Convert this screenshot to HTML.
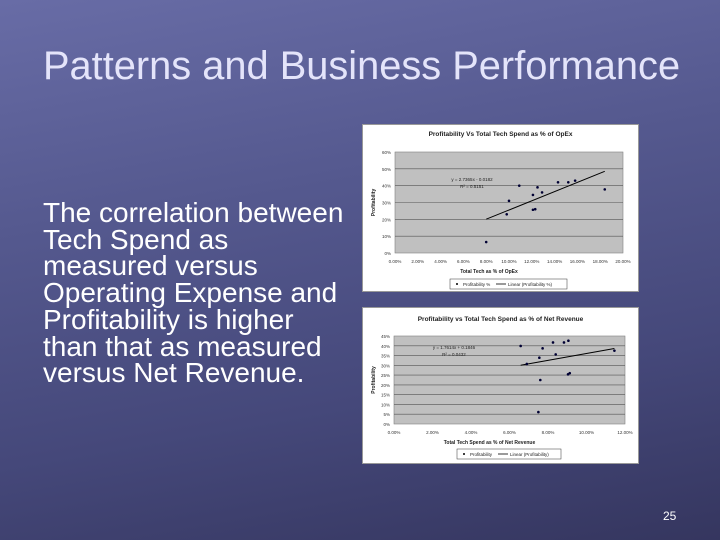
<!DOCTYPE html>
<html><head><meta charset="utf-8"><style>
body{margin:0;width:720px;height:540px;overflow:hidden;font-family:"Liberation Sans",sans-serif;}
#slide{position:relative;width:720px;height:540px;background:linear-gradient(170deg,#686ca6 0%,#55598f 35%,#45487a 70%,#35365f 100%);}
#title{position:absolute;left:43px;top:44px;font-size:39.8px;color:#e4e4fa;white-space:nowrap;}
#body{position:absolute;left:43px;top:200px;font-size:28px;line-height:26.7px;color:#fff;white-space:nowrap;}
#num{position:absolute;left:663px;top:509px;font-size:12px;color:#fff;}
svg{position:absolute;}
</style></head><body>
<div id="slide">
<div id="title">Patterns and Business Performance</div>
<div id="body">The correlation between<br>Tech Spend as<br>measured versus<br>Operating Expense and<br>Profitability is higher<br>than that as measured<br>versus Net Revenue.</div>
<div id="num">25</div>
<svg id="c1" style="left:362px;top:124px" width="277" height="168"></svg>
<svg id="c2" style="left:362px;top:307px" width="277" height="157"></svg>
</div>
<script>
const opexX=[8.0,9.8,10.0,10.9,12.1,12.1,12.3,12.5,12.9,14.3,15.2,15.8,18.4];
const opexY=[6.5,23,31,40,34.5,25.7,26,39,36,42,42,43,37.8];
const opexTicksX=["0.00%","2.00%","4.00%","6.00%","8.00%","10.00%","12.00%","14.00%","16.00%","18.00%","20.00%"];
const opexTicksY=["0%","10%","20%","30%","40%","50%","60%"];
const opexTrend=[2.7365,-0.0182];
const revX=[6.58,6.9,7.55,7.72,8.26,8.4,8.83,9.06,9.04,9.13,7.6,7.5,11.45];
const revY=[39.9,30.7,33.9,38.7,41.7,35.6,41.7,42.6,25.4,26,22.5,6.1,37.5];
const revTicksX=["0.00%","2.00%","4.00%","6.00%","8.00%","10.00%","12.00%"];
const revTicksY=["0%","5%","10%","15%","20%","25%","30%","35%","40%","45%"];
const revTrend=[1.7614,0.1846];
const NS="http://www.w3.org/2000/svg";
function mk(p,t,a,txt){const e=document.createElementNS(NS,t);for(const k in a)e.setAttribute(k,a[k]);if(txt!=null)e.textContent=txt;p.appendChild(e);return e;}
function chart(svg,o){
 const W=+svg.getAttribute('width'),H=+svg.getAttribute('height');
 let e=mk(svg,'rect',{x:0.5,y:0.5,width:W-1,height:H-1,fill:'#fff',stroke:'#999'});
 
 e=mk(svg,'text',{x:W/2,y:o.titleY,'text-anchor':'middle','font-size':6.5,'font-weight':'bold',fill:'#222'},o.title);
 
 const sx=v=>o.px0+(v-o.xmin)/(o.xmax-o.xmin)*(o.px1-o.px0);
 const sy=v=>o.py0-(v-0)/(o.ymax)*(o.py0-o.py1);
 e=mk(svg,'rect',{x:o.px0,y:o.py1,width:o.px1-o.px0,height:o.py0-o.py1,fill:'#c0c0c0',stroke:'#808080','stroke-width':0.6});
 
 const ny=o.ty.length-1;
 o.ty.forEach((t,i)=>{const v=o.ymax*i/ny,y=sy(v);
  if(i>0&&i<ny){const g=mk(svg,'line',{x1:o.px0,x2:o.px1,y1:y,y2:y,stroke:'#555','stroke-width':0.6});}
  const l=mk(svg,'text',{x:o.px0-4,y:y+2,'text-anchor':'end','font-size':4.5,fill:'#333'},t);});
 const nx=o.tx.length-1;
 o.tx.forEach((t,i)=>{const v=o.xmin+(o.xmax-o.xmin)*i/nx;
  const l=mk(svg,'text',{x:sx(v),y:o.py0+10,'text-anchor':'middle','font-size':4.5,fill:'#333'},t);});
 e=mk(svg,'text',{x:(o.px0+o.px1)/2-20,y:o.py0+20,'text-anchor':'middle','font-size':5,'font-weight':'bold',fill:'#222'},o.xl);
 
 const cy=(o.py0+o.py1)/2;
 e=mk(svg,'text',{x:13,y:cy,'text-anchor':'middle','font-size':5,'font-weight':'bold',fill:'#222',transform:`rotate(-90 13 ${cy})`},'Profitability');
 
 const xs=o.x,mn=Math.min(...xs),mx=Math.max(...xs);
 e=mk(svg,'line',{x1:sx(mn),y1:sy((o.tr[0]*mn/100+o.tr[1])*100),x2:sx(mx),y2:sy((o.tr[0]*mx/100+o.tr[1])*100),stroke:'#000','stroke-width':1});
 
 xs.forEach((v,i)=>{const p=mk(svg,'circle',{cx:sx(v),cy:sy(o.y[i]),r:1.3,fill:'#000033'});});
 e=mk(svg,'text',{x:o.eqX,y:o.eqY,'text-anchor':'middle','font-size':4.5,fill:'#222'},o.eq1);
 e=mk(svg,'text',{x:o.eqX,y:o.eqY+7,'text-anchor':'middle','font-size':4.5,fill:'#222'},o.eq2);
 const lg=mk(svg,'g',{});
 mk(lg,'rect',{x:o.lx,y:o.ly,width:o.lw,height:10,fill:'#fff',stroke:'#333','stroke-width':0.5});
 mk(lg,'circle',{cx:o.lx+7,cy:o.ly+5,r:1,fill:'#000'});
 mk(lg,'text',{x:o.lx+13,y:o.ly+7,'font-size':4.5,fill:'#222'},o.l1);
 mk(lg,'line',{x1:o.lx+o.l2x-12,x2:o.lx+o.l2x-2,y1:o.ly+5,y2:o.ly+5,stroke:'#000','stroke-width':0.8});
 mk(lg,'text',{x:o.lx+o.l2x,y:o.ly+7,'font-size':4.5,fill:'#222'},o.l2);
}
chart(document.getElementById('c1'),{title:'Profitability Vs Total Tech Spend as % of OpEx',titleY:12,px0:33,px1:261,py0:129,py1:28,xmin:0,xmax:20,ymax:60,
 tx:opexTicksX,ty:opexTicksY,x:opexX,y:opexY,tr:opexTrend,xl:'Total Tech as % of OpEx',eqX:110,eqY:57,eq1:'y = 2.7365x - 0.0182',eq2:'R² = 0.5151',
 lx:88,ly:155,lw:117,l1:'Profitability %',l2:'Linear (Profitability %)',l2x:58});
chart(document.getElementById('c2'),{title:'Profitability vs Total Tech Spend as % of Net Revenue',titleY:14,px0:32,px1:263,py0:117,py1:29,xmin:0,xmax:12,ymax:45,
 tx:revTicksX,ty:revTicksY,x:revX,y:revY,tr:revTrend,xl:'Total Tech Spend as % of Net Revenue',eqX:92,eqY:42,eq1:'y = 1.7614x + 0.1846',eq2:'R² = 0.0432',
 lx:95,ly:142,lw:104,l1:'Profitability',l2:'Linear (Profitability)',l2x:53});
</script>
</body></html>
